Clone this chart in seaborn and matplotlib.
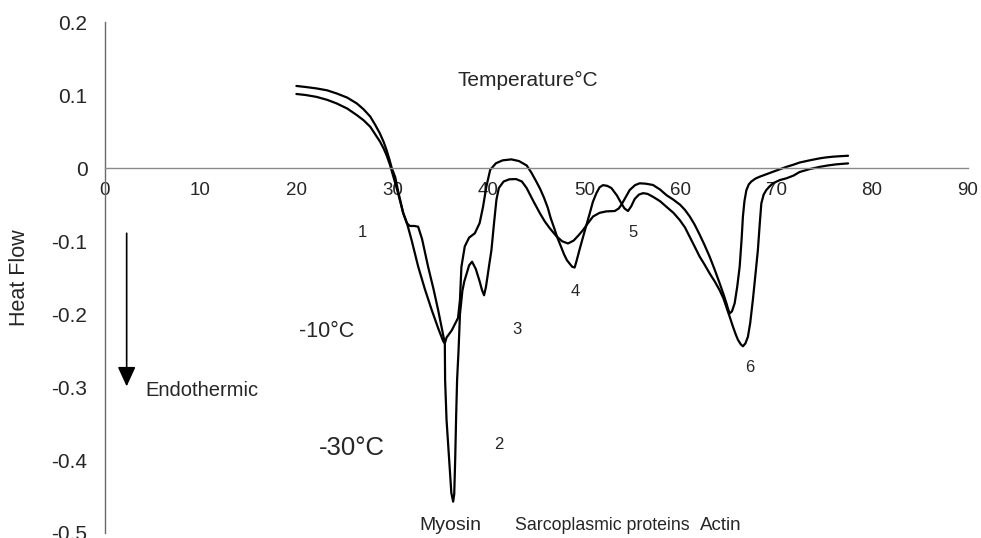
import matplotlib
matplotlib.use("Agg")
import matplotlib.pyplot as plt
import seaborn as sns
import pandas as pd

# ---- data ----
temp_m10 = [20.0, 21.0, 22.1, 23.2, 24.2, 25.3, 26.3, 27.0, 27.7, 28.2, 28.7, 29.1, 29.4, 29.75, 30.1,
            30.6, 31.1, 31.5, 32.0, 32.7, 33.4, 34.1, 34.8, 35.3, 35.47, 35.65, 36.2, 36.85, 37.05, 37.2,
            37.55, 38.0, 38.6, 39.1, 39.45, 39.8, 40.2, 40.8, 41.5, 42.4, 43.2, 44.0, 44.5, 45.0, 45.4,
            45.8, 46.2, 46.5, 46.9, 47.2, 47.6, 47.9, 48.2, 48.5, 48.75, 49.0, 49.2, 49.5, 49.88, 50.2,
            50.57, 50.9, 51.27, 51.6, 51.96, 52.4, 52.83, 53.4, 53.87, 54.2, 54.56, 54.9, 55.26, 55.7,
            56.13, 56.6, 57.17, 57.9, 58.56, 59.3, 59.95, 60.5, 61.0, 61.5, 62.03, 62.5, 63.07, 63.6,
            64.11, 64.5, 64.81, 65.2, 65.5, 65.8, 66.02, 66.3, 66.54, 66.8, 67.06, 67.3, 67.58, 67.85,
            68.1, 68.3, 68.46, 68.7, 68.98, 69.3, 69.67, 70.4, 71.06, 71.8, 72.45, 73.5, 74.53, 75.4,
            76.27, 77.5]
hf_m10 = [0.102, 0.1005, 0.098, 0.094, 0.089, 0.082, 0.073, 0.066, 0.057, 0.047, 0.037, 0.027, 0.018, 0.005, -0.011,
          -0.034, -0.060, -0.074, -0.098, -0.135, -0.166, -0.194, -0.220, -0.237, -0.240, -0.232, -0.222, -0.205, -0.180, -0.135,
          -0.107, -0.095, -0.089, -0.075, -0.053, -0.025, -0.002, 0.007, 0.011, 0.0123, 0.010, 0.004, -0.006, -0.018, -0.028,
          -0.040, -0.054, -0.068, -0.083, -0.095, -0.108, -0.118, -0.126, -0.131, -0.135, -0.136, -0.127, -0.112, -0.094, -0.079,
          -0.062, -0.046, -0.034, -0.026, -0.023, -0.024, -0.027, -0.037, -0.048, -0.055, -0.0585, -0.052, -0.042, -0.036,
          -0.034, -0.035, -0.039, -0.045, -0.0526, -0.061, -0.0708, -0.081, -0.094, -0.107, -0.121, -0.131, -0.144, -0.155,
          -0.167, -0.178, -0.190, -0.205, -0.217, -0.228, -0.235, -0.241, -0.244, -0.240, -0.231, -0.212, -0.180, -0.145,
          -0.112, -0.075, -0.048, -0.036, -0.0297, -0.025, -0.0205, -0.016, -0.0137, -0.010, -0.005, -0.001, 0.002, 0.004,
          0.0055, 0.0068]

temp_m30 = [20.0, 21.0, 22.1, 23.2, 24.2, 25.3, 26.3, 27.0, 27.7, 28.2, 28.7, 29.1, 29.4, 29.7, 29.95, 30.3,
            30.65, 31.15, 31.5, 31.82, 32.3, 32.69, 33.1, 33.73, 34.3, 34.77, 35.2, 35.47, 35.5, 35.65, 35.9,
            36.15, 36.34, 36.45, 36.55, 36.65, 36.75, 36.9, 37.05, 37.3, 37.5, 37.73, 38.0, 38.31, 38.7,
            39.1, 39.35, 39.56, 39.75, 39.9, 40.1, 40.33, 40.6, 40.85, 41.1, 41.6, 42.2, 42.9, 43.5, 44.0,
            44.7, 45.4, 45.9, 46.4, 47.1, 47.7, 48.31, 48.9, 49.4, 49.88, 50.4, 50.92, 51.6, 52.3, 53.18,
            53.6, 53.87, 54.3, 54.74, 55.3, 55.78, 56.4, 57.17, 57.9, 58.6, 59.3, 60.0, 60.5, 61.0, 61.5,
            62.0, 62.5, 63.07, 63.6, 64.1, 64.5, 64.8, 65.0, 65.16, 65.4, 65.68, 65.95, 66.2, 66.4, 66.54,
            66.7, 66.9, 67.15, 67.42, 67.85, 68.28, 69.0, 69.67, 70.36, 71.06, 71.8, 72.45, 73.5, 74.53,
            75.2, 75.92, 76.7, 77.5]
hf_m30 = [0.113, 0.1115, 0.1096, 0.107, 0.1027, 0.097, 0.089, 0.081, 0.071, 0.060, 0.048, 0.036, 0.025, 0.012, 0.000, -0.012,
          -0.034, -0.062, -0.075, -0.079, -0.079, -0.080, -0.097, -0.135, -0.166, -0.194, -0.222, -0.240, -0.290, -0.345, -0.395,
          -0.445, -0.457, -0.447, -0.400, -0.340, -0.290, -0.250, -0.200, -0.168, -0.155, -0.145, -0.133, -0.128, -0.138,
          -0.155, -0.167, -0.174, -0.163, -0.150, -0.132, -0.112, -0.075, -0.043, -0.027, -0.018, -0.015, -0.0147, -0.018, -0.027,
          -0.045, -0.062, -0.073, -0.082, -0.093, -0.100, -0.103, -0.099, -0.092, -0.0845, -0.075, -0.066, -0.061, -0.059, -0.0585,
          -0.055, -0.050, -0.040, -0.0297, -0.023, -0.0205, -0.021, -0.0228, -0.029, -0.037, -0.043, -0.050, -0.057, -0.066, -0.077,
          -0.090, -0.104, -0.121, -0.139, -0.157, -0.172, -0.184, -0.193, -0.199, -0.196, -0.185, -0.162, -0.135, -0.098, -0.066,
          -0.045, -0.030, -0.022, -0.018, -0.014, -0.0115, -0.008, -0.0047, -0.0014, 0.002, 0.005, 0.008, 0.011, 0.0137,
          0.015, 0.016, 0.0167, 0.0173]

x_ticks = [0, 10, 20, 30, 40, 50, 60, 70, 80, 90]
x_tick_labels = ["0", "10", "20", "30", "40", "50", "60", "70", "80", "90"]
y_ticks = [-0.5, -0.4, -0.3, -0.2, -0.1, 0.0, 0.1, 0.2]
y_tick_labels = ["-0.5", "-0.4", "-0.3", "-0.2", "-0.1", "0", "0.1", "0.2"]

x_title = "Temperature°C"
y_title = "Heat Flow"
peak_numbers = ["1", "2", "3", "4", "5", "6"]
series_names = ["-10°C", "-30°C"]
protein_names = ["Myosin", "Sarcoplasmic proteins", "Actin"]
arrow_label = "Endothermic"

# ---- build table ----
df = pd.concat([
    pd.DataFrame({"T": temp_m10, "HF": hf_m10, "series": series_names[0]}),
    pd.DataFrame({"T": temp_m30, "HF": hf_m30, "series": series_names[1]}),
], ignore_index=True)

sns.set_style("white")
plt.rcParams["font.family"] = ["Liberation Sans", "DejaVu Sans"]
plt.rcParams["axes.unicode_minus"] = False

fig = plt.figure(figsize=(9.81, 5.38), dpi=100)
ax = fig.add_axes([104.5 / 981, 5 / 538, 863.5 / 981, 510.5 / 538])

sns.lineplot(data=df, x="T", y="HF", hue="series", palette=["black", "black"],
             estimator=None, sort=False, linewidth=1.6, legend=False, ax=ax)

# spines first (set_position resets tick properties)
for s in ["top", "right"]:
    ax.spines[s].set_visible(False)
ax.spines["bottom"].set_position(("data", 0))
ax.spines["bottom"].set_color("#8a8a8a")
ax.spines["bottom"].set_linewidth(1.0)
ax.spines["left"].set_color("#6a6a6a")
ax.spines["left"].set_linewidth(1.0)

ax.set_xlim(0, 90)
ax.set_ylim(-0.5, 0.2)
ax.set_xticks(x_ticks)
ax.set_xticklabels(x_tick_labels)
ax.set_yticks(y_ticks)
ax.set_yticklabels(y_tick_labels)
ax.tick_params(axis="x", length=0, pad=9.5, labelsize=13.5)
ax.tick_params(axis="y", direction="out", length=4.3, width=1.0, color="#6a6a6a",
               pad=8, labelsize=15)
ax.set_xlabel("")
ax.set_ylabel(y_title, fontsize=15.5)
ax.yaxis.set_label_coords(-0.0863, 0.5)

# annotations
ax.text(44.1, 0.121, x_title, fontsize=15, ha="center", va="center")
num_pos = [(26.9, -0.088), (41.1, -0.379), (43.0, -0.2215), (49.1, -0.169), (55.08, -0.088), (67.3, -0.273)]
for lab, (px, py) in zip(peak_numbers, num_pos):
    ax.text(px, py, lab, fontsize=12, ha="center", va="center")
ax.text(23.15, -0.224, series_names[0], fontsize=15.5, ha="center", va="center")
ax.text(25.75, -0.383, series_names[1], fontsize=18.5, ha="center", va="center")
for lab, px, fs in zip(protein_names, [36.04, 51.87, 64.2], [14, 12.8, 13.5]):
    ax.text(px, -0.490, lab, fontsize=fs, ha="center", va="center")
ax.text(4.22, -0.304, arrow_label, fontsize=14.5, ha="left", va="center")
ax.annotate("", xy=(2.31, -0.299), xytext=(2.31, -0.089),
            arrowprops=dict(arrowstyle="-|>,head_length=1.2,head_width=0.55",
                            mutation_scale=10, color="black", lw=1.2,
                            shrinkA=0, shrinkB=0))

fig.savefig("out.png", dpi=100)
